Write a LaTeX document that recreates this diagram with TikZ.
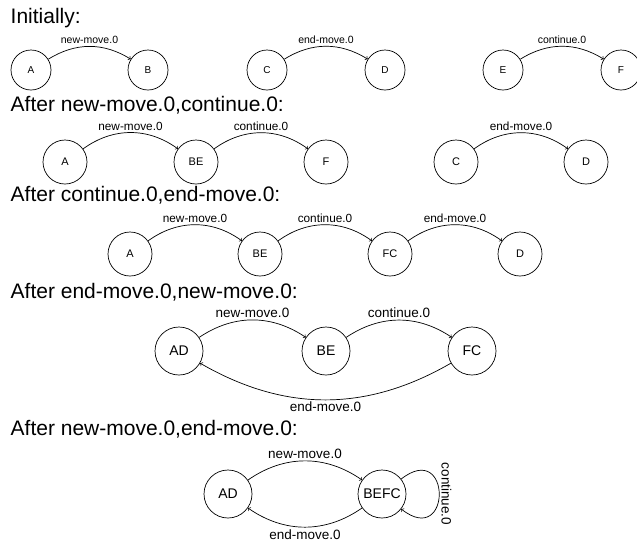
\documentclass[tikz,border=0pt]{standalone}
\usepackage{fontspec}
\setmainfont{Liberation Sans}
\begin{document}
\begin{tikzpicture}[x=1pt,y=-1pt,line width=0.7pt,
    hd/.style={anchor=base west,font=\fontsize{21}{24}\selectfont},
    sa/.style={draw,circle,inner sep=0pt,minimum size=40pt,font=\fontsize{10}{12}\selectfont},
    sb/.style={draw,circle,inner sep=0pt,minimum size=44pt,font=\fontsize{11}{13}\selectfont},
    sc/.style={draw,circle,inner sep=0pt,minimum size=48pt,font=\fontsize{14}{16}\selectfont},
    la/.style={font=\fontsize{10.5}{12}\selectfont,inner sep=2pt},
    lb/.style={font=\fontsize{11.8}{13}\selectfont,inner sep=2pt},
    lc/.style={font=\fontsize{13.5}{16}\selectfont,inner sep=2pt}]
  \useasboundingbox (0,0) rectangle (637,542);
  % Initially
  \node[hd] (h1) at (7,23) {Initially:};
  \foreach \n/\x in {A/31,B/148,C/267,D/385,E/503,F/621}
    \node[sa] (a\n) at (\x,70) {\n};
  \draw[->] (aA) to[bend left=32] node[la,above]{new-move.0} (aB);
  \draw[->] (aC) to[bend left=32] node[la,above]{end-move.0} (aD);
  \draw[->] (aE) to[bend left=32] node[la,above]{continue.0} (aF);
  % after new-move.0,continue.0
  \node[hd] (h2) at (7,111) {After new-move.0,continue.0:};
  \foreach \n/\x in {A/65,BE/196,F/326,C/456,D/586}
    \node[sb] (b\n) at (\x,162) {\n};
  \draw[->] (bA) to[bend left=36] node[lb,above]{new-move.0} (bBE);
  \draw[->] (bBE) to[bend left=36] node[lb,above]{continue.0} (bF);
  \draw[->] (bC) to[bend left=36] node[lb,above]{end-move.0} (bD);
  % after continue.0,end-move.0
  \node[hd] (h3) at (7,201) {After continue.0,end-move.0:};
  \foreach \n/\x in {A/130,BE/260,FC/390,D/520}
    \node[sb] (c\n) at (\x,254) {\n};
  \draw[->] (cA) to[bend left=36] node[lb,above]{new-move.0} (cBE);
  \draw[->] (cBE) to[bend left=36] node[lb,above]{continue.0} (cFC);
  \draw[->] (cFC) to[bend left=36] node[lb,above]{end-move.0} (cD);
  % after end-move.0,new-move.0
  \node[hd] (h4) at (7,298) {After end-move.0,new-move.0:};
  \foreach \n/\x in {AD/179,BE/326,FC/472}
    \node[sc] (d\n) at (\x,351) {\n};
  \draw[->] (dAD) to[bend left=34] node[lc,above]{new-move.0} (dBE);
  \draw[->] (dBE) to[bend left=34] node[lc,above]{continue.0} (dFC);
  \draw[->] (dFC) to[bend left=30] node[lc,below]{end-move.0} (dAD);
  % after new-move.0,end-move.0
  \node[hd] (h5) at (7,435) {After new-move.0,end-move.0:};
  \node[sc] (eAD) at (228,494) {AD};
  \node[sc] (eBEFC) at (382,494) {BEFC};
  \draw[->] (eAD) to[bend left=35] node[lc,above]{new-move.0} (eBEFC);
  \draw[->] (eBEFC) to[bend left=35] node[lc,below]{end-move.0} (eAD);
  \draw[->] (eBEFC) to[out=38,in=-38,looseness=5.5] node[lc,anchor=south,rotate=-90]{continue.0} (eBEFC);
\end{tikzpicture}
\end{document}
